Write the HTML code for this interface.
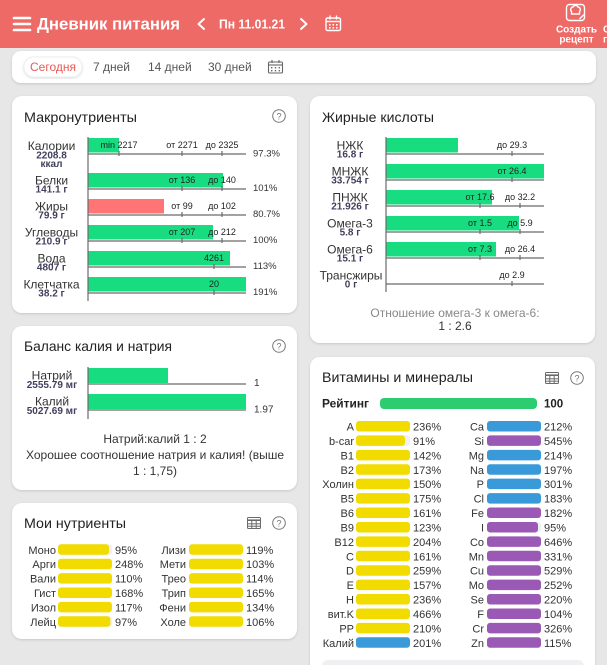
<!DOCTYPE html>
<html><head><meta charset="utf-8">
<style>
html,body{margin:0;padding:0;width:607px;height:665px;overflow:hidden;background:#e7e7e7}
svg{display:block}
text{font-family:"Liberation Sans","DejaVu Sans",sans-serif}
</style></head><body>
<svg width="607" height="665" viewBox="0 0 607 665" xmlns="http://www.w3.org/2000/svg">
<defs>
<filter id="sh" x="-5%" y="-5%" width="110%" height="115%"><feDropShadow dx="0" dy="1" stdDeviation="1.2" flood-color="#000" flood-opacity="0.14"/></filter>
</defs>
<rect width="607" height="665" fill="#e7e7e7"/>

<!-- HEADER -->
<rect width="607" height="48" fill="#ed6a66"/>
<g stroke="#fff" stroke-width="2.6" stroke-linecap="round">
<line x1="14" y1="18" x2="30" y2="18"/><line x1="14" y1="24" x2="30" y2="24"/><line x1="14" y1="30" x2="30" y2="30"/>
</g>
<text x="37" y="29.5" font-size="17" font-weight="bold" fill="#fff" textLength="143" lengthAdjust="spacingAndGlyphs">Дневник питания</text>
<polyline points="204,19 198.5,24 204,29" fill="none" stroke="#fff" stroke-width="2" stroke-linecap="round" stroke-linejoin="round"/>
<text x="219" y="28.5" font-size="13" font-weight="bold" fill="#fff" textLength="66" lengthAdjust="spacingAndGlyphs">Пн 11.01.21</text>
<polyline points="301,19 306.5,24 301,29" fill="none" stroke="#fff" stroke-width="2" stroke-linecap="round" stroke-linejoin="round"/>
<g fill="none" stroke="#fff" stroke-width="1.4">
<rect x="326" y="18" width="14.5" height="12.5" rx="1.5"/>
<line x1="326" y1="21.5" x2="340.5" y2="21.5"/>
<line x1="330" y1="15.5" x2="330" y2="19.5"/><line x1="336.5" y1="15.5" x2="336.5" y2="19.5"/>
</g>
<g fill="#fff"><rect x="329" y="24" width="1.6" height="1.6"/><rect x="332.5" y="24" width="1.6" height="1.6"/><rect x="336" y="24" width="1.6" height="1.6"/><rect x="329" y="27" width="1.6" height="1.6"/><rect x="332.5" y="27" width="1.6" height="1.6"/><rect x="336" y="27" width="1.6" height="1.6"/></g>
<!-- recipe icon -->
<g fill="none" stroke="#fff" stroke-width="1.4" stroke-linejoin="round">
<rect x="566.5" y="4.5" width="18" height="16" rx="3"/>
<path d="M571.5 14 v-2.5 a2.6 2.6 0 0 1 1.5 -4.5 a2.8 2.8 0 0 1 5 0 a2.6 2.6 0 0 1 1.5 4.5 v2.5 z"/>
<line x1="579.5" y1="19" x2="584" y2="14.5"/>
</g>
<text x="576.5" y="32.5" font-size="10" font-weight="bold" fill="#fff" text-anchor="middle">Создать</text>
<text x="576.5" y="42.5" font-size="10" font-weight="bold" fill="#fff" text-anchor="middle">рецепт</text>
<text x="603" y="32.5" font-size="10" font-weight="bold" fill="#fff">С</text>
<text x="603" y="42.5" font-size="10" font-weight="bold" fill="#fff">п</text>

<!-- TABS -->
<rect x="12" y="51" width="584" height="32" rx="9" fill="#fff" filter="url(#sh)"/>
<rect x="24" y="57" width="58" height="20" rx="10" fill="#fff" stroke="#eeeeee" stroke-width="1" filter="url(#sh)"/>
<text x="53" y="71" font-size="12" fill="#e85a55" text-anchor="middle">Сегодня</text>
<text x="93" y="71" font-size="12" fill="#555">7 дней</text>
<text x="148" y="71" font-size="12" fill="#555">14 дней</text>
<text x="208" y="71" font-size="12" fill="#555">30 дней</text>
<g fill="none" stroke="#666" stroke-width="1.1">
<rect x="268.5" y="62" width="14" height="11" rx="1.2"/>
<line x1="268.5" y1="65" x2="282.5" y2="65"/>
<line x1="272" y1="60" x2="272" y2="63"/><line x1="279" y1="60" x2="279" y2="63"/>
</g>
<g fill="#666"><rect x="271" y="67" width="1.4" height="1.4"/><rect x="274.8" y="67" width="1.4" height="1.4"/><rect x="278.6" y="67" width="1.4" height="1.4"/><rect x="271" y="70" width="1.4" height="1.4"/><rect x="274.8" y="70" width="1.4" height="1.4"/><rect x="278.6" y="70" width="1.4" height="1.4"/></g>

<!-- CARDS -->
<rect x="12" y="96" width="285" height="217" rx="10" fill="#fff" filter="url(#sh)"/>
<rect x="310" y="96" width="285" height="247" rx="10" fill="#fff" filter="url(#sh)"/>
<rect x="12" y="326" width="285" height="164" rx="10" fill="#fff" filter="url(#sh)"/>
<rect x="12" y="503" width="285" height="136" rx="10" fill="#fff" filter="url(#sh)"/>
<rect x="310" y="357" width="285" height="330" rx="10" fill="#fff" filter="url(#sh)"/>

<!-- MACRO -->
<text x="24" y="122" font-size="14" fill="#222" textLength="113" lengthAdjust="spacingAndGlyphs">Макронутриенты</text>
<g transform="translate(279,116)"><circle r="6.3" fill="none" stroke="#777" stroke-width="1"/><text y="3.3" text-anchor="middle" font-size="9" fill="#777">?</text></g>
<g fill="#17dd80">
<rect x="88" y="138" width="31" height="14.5"/>
<rect x="88" y="173" width="135" height="14.5"/>
<rect x="88" y="225" width="125" height="14.5"/>
<rect x="88" y="251" width="142" height="14.5"/>
<rect x="88" y="277" width="158" height="14.5"/>
</g>
<rect x="88" y="199" width="76" height="14.5" fill="#ff7575"/>
<g stroke="#6b6b6b" stroke-width="1.2">
<line x1="88" y1="137" x2="88" y2="301"/>
<line x1="88" y1="154" x2="246" y2="154"/>
<line x1="88" y1="189" x2="246" y2="189"/>
<line x1="88" y1="215" x2="246" y2="215"/>
<line x1="88" y1="241" x2="246" y2="241"/>
<line x1="88" y1="267" x2="246" y2="267"/>
<line x1="88" y1="293" x2="246" y2="293"/>
<line x1="119" y1="151" x2="119" y2="156"/><line x1="182" y1="151" x2="182" y2="156"/><line x1="222" y1="151" x2="222" y2="156"/>
<line x1="182" y1="186" x2="182" y2="191"/><line x1="222" y1="186" x2="222" y2="191"/>
<line x1="182" y1="212" x2="182" y2="217"/><line x1="222" y1="212" x2="222" y2="217"/>
<line x1="182" y1="238" x2="182" y2="243"/><line x1="222" y1="238" x2="222" y2="243"/>
<line x1="214" y1="264" x2="214" y2="269"/>
<line x1="214" y1="290" x2="214" y2="295"/>
</g>
<g font-size="9" fill="#222" text-anchor="middle">
<text x="119" y="148">min 2217</text><text x="182" y="148">от 2271</text><text x="222" y="148">до 2325</text>
<text x="182" y="183">от 136</text><text x="222" y="183">до 140</text>
<text x="182" y="209">от 99</text><text x="222" y="209">до 102</text>
<text x="182" y="235">от 207</text><text x="222" y="235">до 212</text>
<text x="214" y="261">4261</text>
<text x="214" y="287">20</text>
</g>
<g font-size="9.5" fill="#333">
<text x="253" y="156.5">97.3%</text>
<text x="253" y="191">101%</text>
<text x="253" y="217">80.7%</text>
<text x="253" y="243">100%</text>
<text x="253" y="269">113%</text>
<text x="253" y="295">191%</text>
</g>
<g text-anchor="middle">
<g font-size="12" fill="#333">
<text x="51.5" y="150">Калории</text>
<text x="51.5" y="184.5">Белки</text>
<text x="51.5" y="210.3">Жиры</text>
<text x="51.5" y="236.3">Углеводы</text>
<text x="51.5" y="262.3">Вода</text>
<text x="51.5" y="288.3">Клетчатка</text>
</g>
<g font-size="10" font-weight="bold" fill="#40405e">
<text x="51.5" y="158.3">2208.8</text>
<text x="51.5" y="166.8">ккал</text>
<text x="51.5" y="192.5">141.1 г</text>
<text x="51.5" y="218.5">79.9 г</text>
<text x="51.5" y="244.5">210.9 г</text>
<text x="51.5" y="270.5">4807 г</text>
<text x="51.5" y="296.5">38.2 г</text>
</g>
</g>

<!-- FATTY ACIDS -->
<text x="322" y="122" font-size="14" fill="#222" textLength="112" lengthAdjust="spacingAndGlyphs">Жирные кислоты</text>
<g fill="#17dd80">
<rect x="386" y="138" width="72" height="14.5"/>
<rect x="386" y="164" width="158" height="14.5"/>
<rect x="386" y="190" width="106" height="14.5"/>
<rect x="386" y="216" width="133" height="14.5"/>
<rect x="386" y="242" width="110" height="14.5"/>
</g>
<g stroke="#6b6b6b" stroke-width="1.2">
<line x1="386" y1="137" x2="386" y2="292"/>
<line x1="386" y1="154" x2="544" y2="154"/>
<line x1="386" y1="180" x2="544" y2="180"/>
<line x1="386" y1="206" x2="544" y2="206"/>
<line x1="386" y1="232" x2="544" y2="232"/>
<line x1="386" y1="258" x2="544" y2="258"/>
<line x1="386" y1="284" x2="544" y2="284"/>
<line x1="512" y1="151" x2="512" y2="156"/>
<line x1="512" y1="177" x2="512" y2="182"/>
<line x1="480" y1="203" x2="480" y2="208"/><line x1="520" y1="203" x2="520" y2="208"/>
<line x1="480" y1="229" x2="480" y2="234"/><line x1="520" y1="229" x2="520" y2="234"/>
<line x1="480" y1="255" x2="480" y2="260"/><line x1="520" y1="255" x2="520" y2="260"/>
<line x1="512" y1="281" x2="512" y2="286"/>
</g>
<g font-size="9" fill="#222" text-anchor="middle">
<text x="512" y="148">до 29.3</text>
<text x="512" y="174">от 26.4</text>
<text x="480" y="200">от 17.6</text><text x="520" y="200">до 32.2</text>
<text x="480" y="226">от 1.5</text><text x="520" y="226">до 5.9</text>
<text x="480" y="252">от 7.3</text><text x="520" y="252">до 26.4</text>
<text x="512" y="278">до 2.9</text>
</g>
<g text-anchor="middle">
<g font-size="12" fill="#333">
<text x="350" y="149.3">НЖК</text>
<text x="350" y="175.3">МНЖК</text>
<text x="350" y="201.3">ПНЖК</text>
<text x="350" y="227.3">Омега-3</text>
<text x="350" y="253.3">Омега-6</text>
<text x="351" y="279.3">Трансжиры</text>
</g>
<g font-size="10" font-weight="bold" fill="#40405e">
<text x="350" y="157.5">16.8 г</text>
<text x="350" y="183.5">33.754 г</text>
<text x="350" y="209.5">21.926 г</text>
<text x="350" y="235.5">5.8 г</text>
<text x="350" y="261.5">15.1 г</text>
<text x="351" y="287.5">0 г</text>
</g>
<text x="455" y="317" font-size="12" fill="#888">Отношение омега-3 к омега-6:</text>
<text x="455" y="330" font-size="12" fill="#333">1 : 2.6</text>
</g>

<!-- BALANCE -->
<text x="24" y="351" font-size="14" fill="#222" textLength="148" lengthAdjust="spacingAndGlyphs">Баланс калия и натрия</text>
<g transform="translate(279,346)"><circle r="6.3" fill="none" stroke="#777" stroke-width="1"/><text y="3.3" text-anchor="middle" font-size="9" fill="#777">?</text></g>
<rect x="88" y="368" width="80" height="15" fill="#17dd80"/>
<rect x="88" y="394" width="158" height="15" fill="#17dd80"/>
<g stroke="#6b6b6b" stroke-width="1.2">
<line x1="88" y1="367" x2="88" y2="419"/>
<line x1="88" y1="384" x2="246" y2="384"/>
<line x1="88" y1="410" x2="246" y2="410"/>
</g>
<text x="254" y="386" font-size="10" fill="#333">1</text>
<text x="254" y="412.5" font-size="10" fill="#333">1.97</text>
<g text-anchor="middle">
<text x="52" y="379.3" font-size="12" fill="#333">Натрий</text>
<text x="52" y="387.8" font-size="10" font-weight="bold" fill="#40405e">2555.79 мг</text>
<text x="52" y="405.3" font-size="12" fill="#333">Калий</text>
<text x="52" y="414" font-size="10" font-weight="bold" fill="#40405e">5027.69 мг</text>
<g font-size="12" fill="#333">
<text x="155" y="443">Натрий:калий 1 : 2</text>
<text x="155" y="459">Хорошее соотношение натрия и калия! (выше</text>
<text x="155" y="475">1 : 1,75)</text>
</g>
</g>

<!-- MY NUTRIENTS -->
<text x="24" y="528" font-size="14" fill="#222" textLength="102" lengthAdjust="spacingAndGlyphs">Мои нутриенты</text>
<g transform="translate(254,523)" fill="none" stroke="#6a6a6a" stroke-width="1">
<rect x="-6.5" y="-5.5" width="13" height="11" rx="1"/>
<line x1="-6.5" y1="-2.8" x2="6.5" y2="-2.8" stroke-width="1.6"/>
<line x1="-6.5" y1="0.8" x2="6.5" y2="0.8"/><line x1="-6.5" y1="3.2" x2="6.5" y2="3.2"/>
<line x1="-2.2" y1="-2.5" x2="-2.2" y2="5.5"/><line x1="2.2" y1="-2.5" x2="2.2" y2="5.5"/>
</g>
<g transform="translate(279,523)"><circle r="6.3" fill="none" stroke="#777" stroke-width="1"/><text y="3.3" text-anchor="middle" font-size="9" fill="#777">?</text></g>
<g fill="#eef0f3">
<rect x="58" y="544.3" width="54" height="10.5" rx="3"/>
<rect x="58" y="616.3" width="54" height="10.5" rx="3"/>
</g>
<g fill="#f2dc00">
<rect x="58" y="544.3" width="51" height="10.5" rx="3"/>
<rect x="58" y="558.7" width="54" height="10.5" rx="3"/>
<rect x="58" y="573.1" width="54" height="10.5" rx="3"/>
<rect x="58" y="587.5" width="54" height="10.5" rx="3"/>
<rect x="58" y="601.9" width="54" height="10.5" rx="3"/>
<rect x="58" y="616.3" width="52.4" height="10.5" rx="3"/>
<rect x="189" y="544.3" width="54" height="10.5" rx="3"/>
<rect x="189" y="558.7" width="54" height="10.5" rx="3"/>
<rect x="189" y="573.1" width="54" height="10.5" rx="3"/>
<rect x="189" y="587.5" width="54" height="10.5" rx="3"/>
<rect x="189" y="601.9" width="54" height="10.5" rx="3"/>
<rect x="189" y="616.3" width="54" height="10.5" rx="3"/>
</g>
<g font-size="11" fill="#333">
<g text-anchor="end">
<text x="56" y="553.8">Моно</text><text x="56" y="568.2">Арги</text><text x="56" y="582.6">Вали</text>
<text x="56" y="597">Гист</text><text x="56" y="611.4">Изол</text><text x="56" y="625.8">Лейц</text>
<text x="186" y="553.8">Лизи</text><text x="186" y="568.2">Мети</text><text x="186" y="582.6">Трео</text>
<text x="186" y="597">Трип</text><text x="186" y="611.4">Фени</text><text x="186" y="625.8">Холе</text>
</g>
<text x="115" y="553.8">95%</text><text x="115" y="568.2">248%</text><text x="115" y="582.6">110%</text>
<text x="115" y="597">168%</text><text x="115" y="611.4">117%</text><text x="115" y="625.8">97%</text>
<text x="246" y="553.8">119%</text><text x="246" y="568.2">103%</text><text x="246" y="582.6">114%</text>
<text x="246" y="597">165%</text><text x="246" y="611.4">134%</text><text x="246" y="625.8">106%</text>
</g>

<!-- VITAMINS -->
<text x="322" y="382" font-size="14" fill="#222" textLength="151" lengthAdjust="spacingAndGlyphs">Витамины и минералы</text>
<g transform="translate(552,378)" fill="none" stroke="#6a6a6a" stroke-width="1">
<rect x="-6.5" y="-5.5" width="13" height="11" rx="1"/>
<line x1="-6.5" y1="-2.8" x2="6.5" y2="-2.8" stroke-width="1.6"/>
<line x1="-6.5" y1="0.8" x2="6.5" y2="0.8"/><line x1="-6.5" y1="3.2" x2="6.5" y2="3.2"/>
<line x1="-2.2" y1="-2.5" x2="-2.2" y2="5.5"/><line x1="2.2" y1="-2.5" x2="2.2" y2="5.5"/>
</g>
<g transform="translate(577,378)"><circle r="6.3" fill="none" stroke="#777" stroke-width="1"/><text y="3.3" text-anchor="middle" font-size="9" fill="#777">?</text></g>
<text x="322" y="407.5" font-size="12" fill="#222" font-weight="bold" textLength="47" lengthAdjust="spacingAndGlyphs">Рейтинг</text>
<rect x="380" y="398" width="157" height="11" rx="4" fill="#2ecc71"/>
<text x="544" y="407.5" font-size="11.5" fill="#222" font-weight="bold">100</text>

<g fill="#eef0f3">
<rect x="356" y="435.42" width="54" height="10.5" rx="3"/>
<rect x="487" y="521.94" width="54" height="10.5" rx="3"/>
</g>
<g fill="#f2dc00">
<rect x="356" y="421" width="54" height="10.5" rx="3"/>
<rect x="356" y="435.42" width="49" height="10.5" rx="3"/>
<rect x="356" y="449.84" width="54" height="10.5" rx="3"/>
<rect x="356" y="464.26" width="54" height="10.5" rx="3"/>
<rect x="356" y="478.68" width="54" height="10.5" rx="3"/>
<rect x="356" y="493.1" width="54" height="10.5" rx="3"/>
<rect x="356" y="507.52" width="54" height="10.5" rx="3"/>
<rect x="356" y="521.94" width="54" height="10.5" rx="3"/>
<rect x="356" y="536.36" width="54" height="10.5" rx="3"/>
<rect x="356" y="550.78" width="54" height="10.5" rx="3"/>
<rect x="356" y="565.2" width="54" height="10.5" rx="3"/>
<rect x="356" y="579.62" width="54" height="10.5" rx="3"/>
<rect x="356" y="594.04" width="54" height="10.5" rx="3"/>
<rect x="356" y="608.46" width="54" height="10.5" rx="3"/>
<rect x="356" y="622.88" width="54" height="10.5" rx="3"/>
</g>
<g fill="#3a9ad9">
<rect x="356" y="637.3" width="54" height="10.5" rx="3"/>
<rect x="487" y="421" width="54" height="10.5" rx="3"/>
<rect x="487" y="449.84" width="54" height="10.5" rx="3"/>
<rect x="487" y="464.26" width="54" height="10.5" rx="3"/>
<rect x="487" y="478.68" width="54" height="10.5" rx="3"/>
<rect x="487" y="493.1" width="54" height="10.5" rx="3"/>
</g>
<g fill="#9b59b6">
<rect x="487" y="435.42" width="54" height="10.5" rx="3"/>
<rect x="487" y="507.52" width="54" height="10.5" rx="3"/>
<rect x="487" y="521.94" width="51" height="10.5" rx="3"/>
<rect x="487" y="536.36" width="54" height="10.5" rx="3"/>
<rect x="487" y="550.78" width="54" height="10.5" rx="3"/>
<rect x="487" y="565.2" width="54" height="10.5" rx="3"/>
<rect x="487" y="579.62" width="54" height="10.5" rx="3"/>
<rect x="487" y="594.04" width="54" height="10.5" rx="3"/>
<rect x="487" y="608.46" width="54" height="10.5" rx="3"/>
<rect x="487" y="622.88" width="54" height="10.5" rx="3"/>
<rect x="487" y="637.3" width="54" height="10.5" rx="3"/>
</g>
<g font-size="11" fill="#333">
<g text-anchor="end">
<text x="354" y="430.5">A</text><text x="354" y="444.9">b-car</text><text x="354" y="459.3">B1</text>
<text x="354" y="473.8">B2</text><text x="354" y="488.2">Холин</text><text x="354" y="502.6">B5</text>
<text x="354" y="517">B6</text><text x="354" y="531.4">B9</text><text x="354" y="545.9">B12</text>
<text x="354" y="560.3">C</text><text x="354" y="574.7">D</text><text x="354" y="589.1">E</text>
<text x="354" y="603.5">H</text><text x="354" y="618">вит.K</text><text x="354" y="632.4">PP</text>
<text x="354" y="646.8">Калий</text>
<text x="484" y="430.5">Ca</text><text x="484" y="444.9">Si</text><text x="484" y="459.3">Mg</text>
<text x="484" y="473.8">Na</text><text x="484" y="488.2">P</text><text x="484" y="502.6">Cl</text>
<text x="484" y="517">Fe</text><text x="484" y="531.4">I</text><text x="484" y="545.9">Co</text>
<text x="484" y="560.3">Mn</text><text x="484" y="574.7">Cu</text><text x="484" y="589.1">Mo</text>
<text x="484" y="603.5">Se</text><text x="484" y="618">F</text><text x="484" y="632.4">Cr</text>
<text x="484" y="646.8">Zn</text>
</g>
<text x="413" y="430.5">236%</text><text x="413" y="444.9">91%</text><text x="413" y="459.3">142%</text>
<text x="413" y="473.8">173%</text><text x="413" y="488.2">150%</text><text x="413" y="502.6">175%</text>
<text x="413" y="517">161%</text><text x="413" y="531.4">123%</text><text x="413" y="545.9">204%</text>
<text x="413" y="560.3">161%</text><text x="413" y="574.7">259%</text><text x="413" y="589.1">157%</text>
<text x="413" y="603.5">236%</text><text x="413" y="618">466%</text><text x="413" y="632.4">210%</text>
<text x="413" y="646.8">201%</text>
<text x="544" y="430.5">212%</text><text x="544" y="444.9">545%</text><text x="544" y="459.3">214%</text>
<text x="544" y="473.8">197%</text><text x="544" y="488.2">301%</text><text x="544" y="502.6">183%</text>
<text x="544" y="517">182%</text><text x="544" y="531.4">95%</text><text x="544" y="545.9">646%</text>
<text x="544" y="560.3">331%</text><text x="544" y="574.7">529%</text><text x="544" y="589.1">252%</text>
<text x="544" y="603.5">220%</text><text x="544" y="618">104%</text><text x="544" y="632.4">326%</text>
<text x="544" y="646.8">115%</text>
</g>
<rect x="322" y="660" width="262" height="20" rx="6" fill="#f0f0f2"/>
</svg>
</body></html>
